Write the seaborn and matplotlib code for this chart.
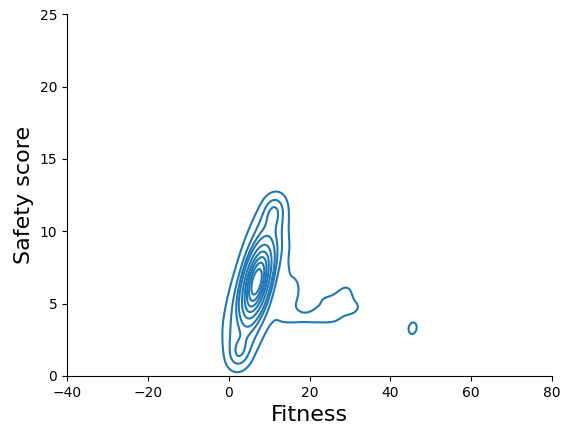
import matplotlib
matplotlib.use("Agg")
import matplotlib.pyplot as plt
import seaborn as sns
import pandas as pd

# core of the main cluster
core_x = [4.73, 5.16, 5.6, 6.03, 6.47, 6.9, 7.33, 7.77, 8.2, 8.64, 9.07,
          4.8, 6.4, 5.23, 6.83, 5.67, 7.27, 6.1, 7.7, 6.53, 8.13, 6.97, 8.57, 7.4, 9.0,
          6.9, 6.6, 7.2]
core_y = [4.0, 4.5, 5.0, 5.5, 6.0, 6.5, 7.0, 7.5, 8.0, 8.5, 9.0,
          5.0, 5.0, 5.5, 5.5, 6.0, 6.0, 6.5, 6.5, 7.0, 7.0, 7.5, 7.5, 8.0, 8.0,
          6.5, 6.2, 6.8]
# broader halo of the main cluster
halo_x = [1.6, 2.55, 3.5, 1.0, 3.42, 5.4, 1.0, 4.29, 7.1, 1.6, 8.3, 2.4, 9.4,
          3.4, 10.2, 4.5, 11.0, 5.6, 11.7, 6.8, 9.51, 12.0, 8.3, 10.38, 12.2,
          10.3, 11.25, 12.0]
halo_y = [1.5, 1.5, 1.5, 2.5, 2.5, 2.5, 3.5, 3.5, 3.5, 4.5, 4.5, 5.5, 5.5,
          6.5, 6.5, 7.5, 7.5, 8.5, 8.5, 9.5, 9.5, 9.5, 10.5, 10.5, 10.5,
          11.5, 11.5, 11.5]
# tail towards high fitness
tail_x = [12, 14.5, 17, 19.5, 22, 24.5, 27,
          14, 16.5, 22, 25, 28,
          30, 32.5, 29.5,
          14.5, 13.5, 16.5]
tail_y = [4.0, 4.0, 4.0, 4.0, 4.0, 4.0, 4.0,
          5.5, 5.5, 5.5, 5.5, 5.5,
          4.5, 4.8, 5.8,
          7.3, 8.8, 6.5]
# isolated observation
lone_x = [45.5]
lone_y = [3.3]

fitness = core_x + halo_x + tail_x + lone_x
safety = core_y + halo_y + tail_y + lone_y
counts = ([4] * len(core_x) + [2] * len(halo_x) + [0.65] * len(tail_x)
          + [1.2] * len(lone_x))

df = pd.DataFrame({"Fitness": fitness, "Safety score": safety, "n": counts})

fig = plt.figure(figsize=(5.68, 4.3), dpi=100)
ax = fig.add_axes([0.118, 0.1256, 0.854, 0.8414])
sns.kdeplot(data=df, x="Fitness", y="Safety score", weights="n", ax=ax, color="C0",
            linewidths=1.5, bw_adjust=0.6)
ax.set_xlim(-40, 80)
ax.set_ylim(0, 25)
ax.set_xlabel("Fitness", fontsize=16)
ax.set_ylabel("Safety score", fontsize=16)
sns.despine(ax=ax)
fig.savefig("out.png", dpi=100)
